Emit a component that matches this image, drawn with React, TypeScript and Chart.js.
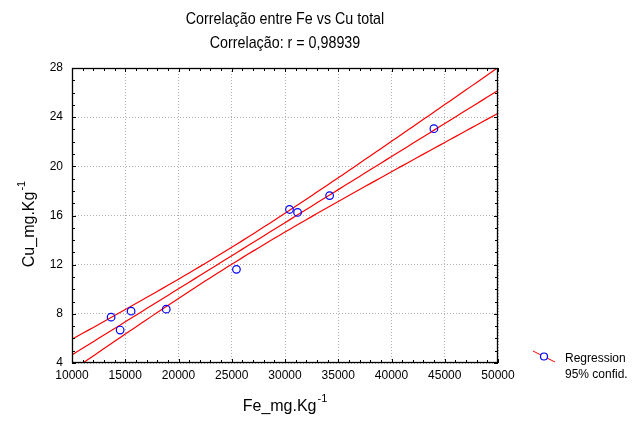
import React, { useEffect, useRef } from "react";
import { Chart, registerables } from "chart.js";

Chart.register(...registerables);

const titleLine1 = "Correlação entre Fe vs Cu total";
const titleLine2 = "Correlação: r = 0,98939";
const xAxisTitle = "Fe_mg.Kg";
const yAxisTitle = "Cu_mg.Kg";
const axisSuperscript = "-1";
const legendLabels = ["Regression", "95% confid."];

const feValues = [13670, 14520, 15550, 18850, 25440, 30420, 31180, 34190, 43980];
const cuValues = [7.73, 6.68, 8.22, 8.38, 11.62, 16.49, 16.25, 17.62, 23.06];

const xMin = 10000;
const xMax = 50000;
const xStep = 5000;
const xMinorStep = 1000;
const yMin = 4;
const yMax = 28;
const yStep = 4;
const yMinorStep = 1;

const T_975_DF7 = 2.3646;

const FONT = '"Liberation Sans", Arial, Helvetica, sans-serif';

function fitRegression(xs: number[], ys: number[]) {
  const n = xs.length;
  const mx = xs.reduce((a, b) => a + b, 0) / n;
  const my = ys.reduce((a, b) => a + b, 0) / n;
  let sxx = 0;
  let sxy = 0;
  for (let i = 0; i < n; i++) {
    sxx += (xs[i] - mx) ** 2;
    sxy += (xs[i] - mx) * (ys[i] - my);
  }
  const b = sxy / sxx;
  const a = my - b * mx;
  let sse = 0;
  for (let i = 0; i < n; i++) sse += (ys[i] - (a + b * xs[i])) ** 2;
  const s = Math.sqrt(sse / (n - 2));
  return { a, b, s, n, mx, sxx };
}

function buildLines() {
  const fit = fitRegression(feValues, cuValues);
  const mid: { x: number; y: number }[] = [];
  const up: { x: number; y: number }[] = [];
  const lo: { x: number; y: number }[] = [];
  for (let xv = xMin - 2000; xv <= xMax + 2000; xv += 500) {
    const yh = fit.a + fit.b * xv;
    const h = T_975_DF7 * fit.s * Math.sqrt(1 / fit.n + (xv - fit.mx) ** 2 / fit.sxx);
    mid.push({ x: xv, y: yh });
    up.push({ x: xv, y: yh + h });
    lo.push({ x: xv, y: yh - h });
  }
  return { mid, up, lo };
}

const decorPlugin = {
  id: "decor",
  afterDraw(chart: any) {
    const { ctx, chartArea } = chart;
    const { left, right, top, bottom } = chartArea;
    const xs = chart.scales.x;
    const ys = chart.scales.y;
    ctx.save();

    // frame
    ctx.strokeStyle = "#000";
    ctx.lineWidth = 1.3;
    ctx.strokeRect(left + 0.5, top + 0.5, right - left - 1, bottom - top - 1);

    // inward ticks
    ctx.lineWidth = 1;
    ctx.beginPath();
    for (let v = xMin; v <= xMax; v += xMinorStep) {
      const px = Math.round(xs.getPixelForValue(v)) + 0.5;
      const len = v % xStep === 0 ? 4 : 3;
      ctx.moveTo(px, bottom);
      ctx.lineTo(px, bottom - len);
      ctx.moveTo(px, top);
      ctx.lineTo(px, top + len);
    }
    for (let v = yMin; v <= yMax; v += yMinorStep) {
      const py = Math.round(ys.getPixelForValue(v)) + 0.5;
      const len = v % yStep === 0 ? 4 : 3;
      ctx.moveTo(left, py);
      ctx.lineTo(left + len, py);
      ctx.moveTo(right, py);
      ctx.lineTo(right - len, py);
    }
    ctx.stroke();

    // titles (condensed)
    ctx.fillStyle = "#000";
    ctx.textAlign = "center";
    ctx.textBaseline = "alphabetic";
    ctx.font = `17px ${FONT}`;
    const cx = (left + right) / 2;
    [
      [titleLine1, 24],
      [titleLine2, 48],
    ].forEach(([t, yy]) => {
      ctx.save();
      ctx.translate(cx, yy as number);
      ctx.scale(0.84, 1);
      ctx.fillText(t as string, 0, 0);
      ctx.restore();
    });

    // axis title helper
    const drawSupTitle = (main: string, sup: string) => {
      ctx.font = `16px ${FONT}`;
      const wMain = ctx.measureText(main).width;
      ctx.font = `11px ${FONT}`;
      const wSup = ctx.measureText(sup).width;
      const total = wMain + wSup + 1;
      ctx.textAlign = "left";
      ctx.font = `16px ${FONT}`;
      ctx.fillText(main, -total / 2, 0);
      ctx.font = `11px ${FONT}`;
      ctx.fillText(sup, -total / 2 + wMain + 1, -9);
    };

    ctx.save();
    ctx.translate(cx, 411);
    drawSupTitle(xAxisTitle, axisSuperscript);
    ctx.restore();

    ctx.save();
    ctx.translate(34, 224);
    ctx.rotate(-Math.PI / 2);
    drawSupTitle(yAxisTitle, axisSuperscript);
    ctx.restore();

    // legend
    ctx.strokeStyle = "#ff0000";
    ctx.lineWidth = 1;
    ctx.beginPath();
    ctx.moveTo(533, 351);
    ctx.lineTo(555, 362);
    ctx.stroke();
    ctx.strokeStyle = "#0000ff";
    ctx.lineWidth = 1.2;
    ctx.fillStyle = "#fff";
    ctx.beginPath();
    ctx.arc(544, 356.5, 3.5, 0, Math.PI * 2);
    ctx.fill();
    ctx.stroke();
    ctx.fillStyle = "#000";
    ctx.textAlign = "left";
    ctx.font = `12px ${FONT}`;
    ctx.fillText(legendLabels[0], 565, 362);
    ctx.fillText(legendLabels[1], 565, 378);

    ctx.restore();
  },
};

export default function App() {
  const canvasRef = useRef<HTMLCanvasElement | null>(null);

  useEffect(() => {
    if (!canvasRef.current) return;
    const { mid, up, lo } = buildLines();
    const points = feValues.map((x, i) => ({ x, y: cuValues[i] }));
    const lineStyle = {
      showLine: true,
      borderColor: "#ff0000",
      borderWidth: 1.2,
      pointRadius: 0,
      pointHoverRadius: 0,
      fill: false,
    };
    const chart = new Chart(canvasRef.current, {
      type: "scatter",
      data: {
        datasets: [
          {
            label: "data",
            data: points,
            pointStyle: "circle",
            pointRadius: 3.8,
            pointBorderWidth: 1.2,
            pointBorderColor: "#0000ff",
            pointBackgroundColor: "rgba(255,255,255,0)",
            showLine: false,
          },
          { label: "Regression", data: mid, ...lineStyle },
          { label: "upper", data: up, ...lineStyle },
          { label: "lower", data: lo, ...lineStyle },
        ],
      },
      options: {
        animation: false,
        responsive: true,
        maintainAspectRatio: false,
        layout: { padding: { left: 0, right: 146, top: 68, bottom: 0 } },
        plugins: {
          legend: { display: false },
          title: { display: false },
          tooltip: { enabled: false },
        },
        scales: {
          x: {
            type: "linear",
            min: xMin,
            max: xMax,
            afterFit: (s: any) => {
              s.height = 58;
            },
            ticks: {
              stepSize: xStep,
              padding: 5,
              color: "#000",
              font: { family: FONT, size: 12 },
              callback: (v: any) => String(v),
              maxRotation: 0,
              autoSkip: false,
            },
            grid: {
              color: "#b0b0b0",
              lineWidth: 1,
              drawTicks: false,
            },
            border: { display: false, dash: [1, 2] },
          },
          y: {
            type: "linear",
            min: yMin,
            max: yMax,
            afterFit: (s: any) => {
              s.width = 72;
            },
            ticks: {
              stepSize: yStep,
              padding: 9,
              color: "#000",
              font: { family: FONT, size: 12 },
              callback: (v: any) => String(v),
              autoSkip: false,
            },
            grid: {
              color: "#b0b0b0",
              lineWidth: 1,
              drawTicks: false,
            },
            border: { display: false, dash: [1, 2] },
          },
        },
      },
      plugins: [decorPlugin],
    } as any);
    return () => chart.destroy();
  }, []);

  return (
    <div style={{ position: "absolute", left: 0, top: 0, width: 644, height: 421, background: "#fff" }}>
      <canvas ref={canvasRef} />
    </div>
  );
}
